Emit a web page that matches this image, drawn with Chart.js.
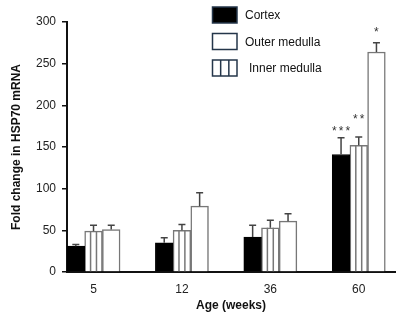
<!DOCTYPE html>
<html>
<head>
<meta charset="utf-8">
<script src="https://cdn.jsdelivr.net/npm/chart.js@4.4.1/dist/chart.umd.min.js"></script>
<style>
  body { margin: 0; background: #fff; }
</style>
</head>
<body>
<canvas id="chart" width="405" height="326"></canvas>
<script>
// values (fold change, mean + SEM)
const ages = ['5', '12', '36', '60'];
const cortex = [31, 35, 42, 141];
const cortexErr = [2, 6, 14, 20];
const innerMedulla = [49, 50, 53, 152];
const innerErr = [7, 7, 9, 10];
const outerMedulla = [51, 79, 61, 264];
const outerErr = [5, 16, 9, 11];
const cortexSig = ['', '', '', '***'];
const innerSig = ['', '', '', '**'];
const outerSig = ['', '', '', '*'];
const legendOrder = ['Cortex', 'Outer medulla', 'Inner medulla'];

const FONT = "'Liberation Sans', Arial, sans-serif";
const toPoints = arr => arr.map((v, i) => ({ x: i, y: v }));

// vertical lines inside the hatched bars, then error bars and stars
const barExtras = {
    id: 'barExtras',
    afterDatasetsDraw(chart) {
        const ctx = chart.ctx;
        const yScale = chart.scales.y;
        chart.data.datasets.forEach((ds, di) => {
            const meta = chart.getDatasetMeta(di);
            meta.data.forEach((bar, i) => {
                const { x, y, base, width } = bar.getProps(['x', 'y', 'base', 'width'], true);
                ctx.save();
                if (ds.striped) {
                    const left = x - width / 2;
                    ctx.strokeStyle = '#777';
                    ctx.lineWidth = 1.5;
                    ctx.beginPath();
                    [1, 2].forEach(k => {
                        ctx.moveTo(left + width * k / 3, y);
                        ctx.lineTo(left + width * k / 3, base);
                    });
                    ctx.stroke();
                }
                const top = yScale.getPixelForValue(ds.data[i].y + ds.errors[i]);
                ctx.strokeStyle = '#444';
                ctx.lineWidth = 1.5;
                ctx.beginPath();
                ctx.moveTo(x, y);
                ctx.lineTo(x, top);
                ctx.moveTo(x - 3.5, top);
                ctx.lineTo(x + 3.5, top);
                ctx.stroke();
                if (ds.sig[i]) {
                    ctx.fillStyle = '#333';
                    ctx.font = '12px ' + FONT;
                    ctx.textAlign = 'center';
                    ctx.textBaseline = 'alphabetic';
                    ctx.letterSpacing = '2px';
                    ctx.fillText(ds.sig[i], x + 1, top - ds.sigGap + 7);
                }
                ctx.restore();
            });
        });
    }
};

// legend drawn inside the plot, top right
const boxLegend = {
    id: 'boxLegend',
    afterDraw(chart) {
        const ctx = chart.ctx;
        ctx.save();
        legendOrder.forEach((name, row) => {
            const ds = chart.data.datasets.find(d => d.label === name);
            const bx = 212.5, by = 7 + row * 26.5, bw = 24.5, bh = 16;
            ctx.fillStyle = ds.label === 'Cortex' ? '#000' : '#fff';
            ctx.fillRect(bx, by, bw, bh);
            ctx.strokeStyle = '#24364a';
            ctx.lineWidth = 1.5;
            ctx.strokeRect(bx, by, bw, bh);
            if (ds.striped) {
                ctx.beginPath();
                [1, 2].forEach(k => {
                    ctx.moveTo(bx + bw * k / 3, by);
                    ctx.lineTo(bx + bw * k / 3, by + bh);
                });
                ctx.stroke();
            }
            ctx.fillStyle = '#111';
            ctx.font = '12px ' + FONT;
            ctx.textBaseline = 'middle';
            ctx.fillText(name, ds.striped ? 249 : 245, by + bh / 2 + 1);
        });
        ctx.restore();
    }
};

new Chart(document.getElementById('chart'), {
    type: 'bar',
    data: {
        datasets: [
            { label: 'Cortex', data: toPoints(cortex), errors: cortexErr, sig: cortexSig, sigGap: 10,
              backgroundColor: '#000', borderColor: '#000', borderWidth: 1 },
            { label: 'Inner medulla', data: toPoints(innerMedulla), errors: innerErr, sig: innerSig, sigGap: 21,
              striped: true, backgroundColor: '#fff', borderColor: '#777', borderWidth: 1.5 },
            { label: 'Outer medulla', data: toPoints(outerMedulla), errors: outerErr, sig: outerSig, sigGap: 14,
              backgroundColor: '#fff', borderColor: '#777', borderWidth: 1.5 }
        ]
    },
    options: {
        responsive: false,
        animation: false,
        datasets: { bar: { barThickness: 17.7 } },
        layout: { padding: { left: 0, right: 10, top: 22, bottom: 0 } },
        plugins: { legend: { display: false }, tooltip: { enabled: false } },
        scales: {
            x: {
                type: 'linear',
                offset: false,
                min: -0.3,
                max: 3.41,
                afterBuildTicks: s => { s.ticks = ages.map((a, i) => ({ value: i })); },
                afterFit: s => { s.height = 54; },
                ticks: {
                    callback: v => ages[v],
                    autoSkip: false,
                    maxRotation: 0,
                    padding: 10,
                    color: '#222',
                    font: { family: FONT, size: 12 }
                },
                grid: { display: false, drawTicks: false, offset: false },
                border: { color: '#111', width: 2 },
                title: {
                    display: true,
                    text: 'Age (weeks)',
                    color: '#111',
                    font: { family: FONT, size: 12, weight: 'bold' },
                    padding: { top: 0, bottom: 13 }
                }
            },
            y: {
                min: 0,
                max: 300,
                afterFit: s => { s.width = 67; },
                ticks: {
                    stepSize: 50,
                    padding: 6,
                    color: '#222',
                    font: { family: FONT, size: 12 }
                },
                grid: { drawOnChartArea: false, tickLength: 5, color: '#111', lineWidth: 1.5 },
                border: { color: '#111', width: 2 },
                title: {
                    display: true,
                    text: 'Fold change in HSP70 mRNA',
                    color: '#111',
                    font: { family: FONT, size: 12, weight: 'bold' },
                    padding: { top: 9, bottom: 0 }
                }
            }
        }
    },
    plugins: [barExtras, boxLegend]
});
</script>
</body>
</html>
